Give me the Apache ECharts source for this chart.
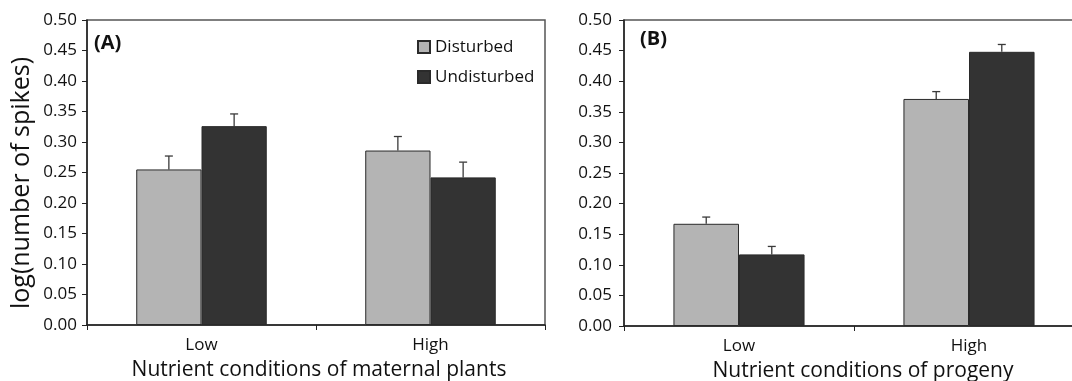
<!DOCTYPE html>
<html>
<head>
<meta charset="utf-8">
<script src="https://cdn.jsdelivr.net/npm/echarts@6/dist/echarts.min.js"></script>
<style>
  html, body { margin: 0; padding: 0; background: #fff; }
  #main { width: 1072px; height: 381px; }
</style>
</head>
<body>
<div id="main"></div>
<script>
  var categories = ['Low', 'High'];
  var yTicks = ['0.00', '0.05', '0.10', '0.15', '0.20', '0.25', '0.30', '0.35', '0.40', '0.45', '0.50'];

  // panel A: maternal plants
  var disturbedA = [0.255, 0.286];
  var undisturbedA = [0.326, 0.242];
  var disturbedErrA = [0.022, 0.023];
  var undisturbedErrA = [0.020, 0.025];

  // panel B: progeny
  var disturbedB = [0.167, 0.371];
  var undisturbedB = [0.117, 0.448];
  var disturbedErrB = [0.011, 0.012];
  var undisturbedErrB = [0.013, 0.012];

  var font = 'Open Sans';
  var lightGray = '#b4b4b4';
  var darkGray = '#333333';

  function errSeries(name, idx, values, errs, side) {
    return {
      name: name,
      type: 'custom',
      xAxisIndex: idx,
      yAxisIndex: idx,
      z: 1,
      data: values.map(function (v, i) { return [i, v, v + errs[i]]; }),
      renderItem: function (params, api) {
        var bw = api.size([1, 0])[0];
        var shift = side * bw * 0.1425;
        var base = api.coord([api.value(0), api.value(1)]);
        var top = api.coord([api.value(0), api.value(2)]);
        var x = base[0] + shift;
        var st = { stroke: '#3a3a3a', lineWidth: 1.3 };
        return {
          type: 'group',
          children: [
            { type: 'line', shape: { x1: x, y1: base[1], x2: x, y2: top[1] }, style: st },
            { type: 'line', shape: { x1: x - 4, y1: top[1], x2: x + 4, y2: top[1] }, style: st }
          ]
        };
      }
    };
  }

  function barSeries(name, idx, values, color) {
    return {
      name: name,
      type: 'bar',
      xAxisIndex: idx,
      yAxisIndex: idx,
      data: values,
      barGap: '0%',
      barCategoryGap: '43%',
      z: 2,
      itemStyle: { color: color, borderColor: '#2a2a2a', borderWidth: 1 }
    };
  }

  function xAxisFor(idx, name, pad) {
    return {
      type: 'category',
      gridIndex: idx,
      data: categories,
      name: name,
      nameLocation: 'middle',
      nameGap: 35,
      nameTextStyle: { fontFamily: font, fontSize: 21, color: '#111', padding: pad },
      axisLine: { lineStyle: { color: '#222', width: 1.5 } },
      axisTick: { show: true, length: 5, lineStyle: { color: '#222' } },
      axisLabel: { fontFamily: font, fontSize: 17, color: '#111', margin: 12 }
    };
  }

  function yAxisFor(idx, margin) {
    return {
      type: 'value',
      gridIndex: idx,
      min: 0,
      max: 0.5,
      interval: 0.05,
      axisLine: { show: true, lineStyle: { color: '#222', width: 1.5 } },
      axisTick: { show: true, length: 5, lineStyle: { color: '#222' } },
      splitLine: { show: false },
      axisLabel: {
        fontFamily: font, fontSize: 17, color: '#111', margin: margin,
        formatter: function (v) { return yTicks[Math.round(v / 0.05)]; }
      }
    };
  }

  var myChart = echarts.init(document.getElementById('main'));
  myChart.setOption({
    backgroundColor: '#fff',
    animation: false,
    grid: [
      { left: 87, right: 527, top: 20, bottom: 56, outerBoundsMode: 'none', show: true, borderColor: '#555', borderWidth: 1.5 },
      { left: 624, right: -12, top: 20, bottom: 55, outerBoundsMode: 'none', show: true, borderColor: '#555', borderWidth: 1.5 }
    ],
    legend: {
      data: ['Disturbed', 'Undisturbed'],
      orient: 'vertical',
      left: 412,
      top: 33,
      icon: 'rect',
      itemWidth: 12,
      itemHeight: 12,
      itemGap: 12,
      textStyle: { fontFamily: font, fontSize: 17, lineHeight: 18, color: '#111' }
    },
    graphic: [
      { type: 'text', left: 94, top: 33, style: { text: '(A)', font: 'bold 20px "Open Sans"', fill: '#111' } },
      { type: 'text', left: 640, top: 29, style: { text: '(B)', font: 'bold 20px "Open Sans"', fill: '#111' } },
      {
        type: 'text', x: 22, y: 183, rotation: Math.PI / 2,
        style: {
          text: 'log(number of spikes)', font: '25px "Open Sans"', fill: '#111',
          align: 'center', verticalAlign: 'middle'
        }
      }
    ],
    xAxis: [
      xAxisFor(0, 'Nutrient conditions of maternal plants', [0, 0, 0, 6]),
      xAxisFor(1, 'Nutrient conditions of progeny', [0, 0, 0, 18])
    ],
    yAxis: [yAxisFor(0, 10), yAxisFor(1, 12)],
    series: [
      barSeries('Disturbed', 0, disturbedA, lightGray),
      barSeries('Undisturbed', 0, undisturbedA, darkGray),
      barSeries('Disturbed', 1, disturbedB, lightGray),
      barSeries('Undisturbed', 1, undisturbedB, darkGray),
      errSeries('errDA', 0, disturbedA, disturbedErrA, -1),
      errSeries('errUA', 0, undisturbedA, undisturbedErrA, 1),
      errSeries('errDB', 1, disturbedB, disturbedErrB, -1),
      errSeries('errUB', 1, undisturbedB, undisturbedErrB, 1)
    ]
  });
</script>
</body>
</html>
